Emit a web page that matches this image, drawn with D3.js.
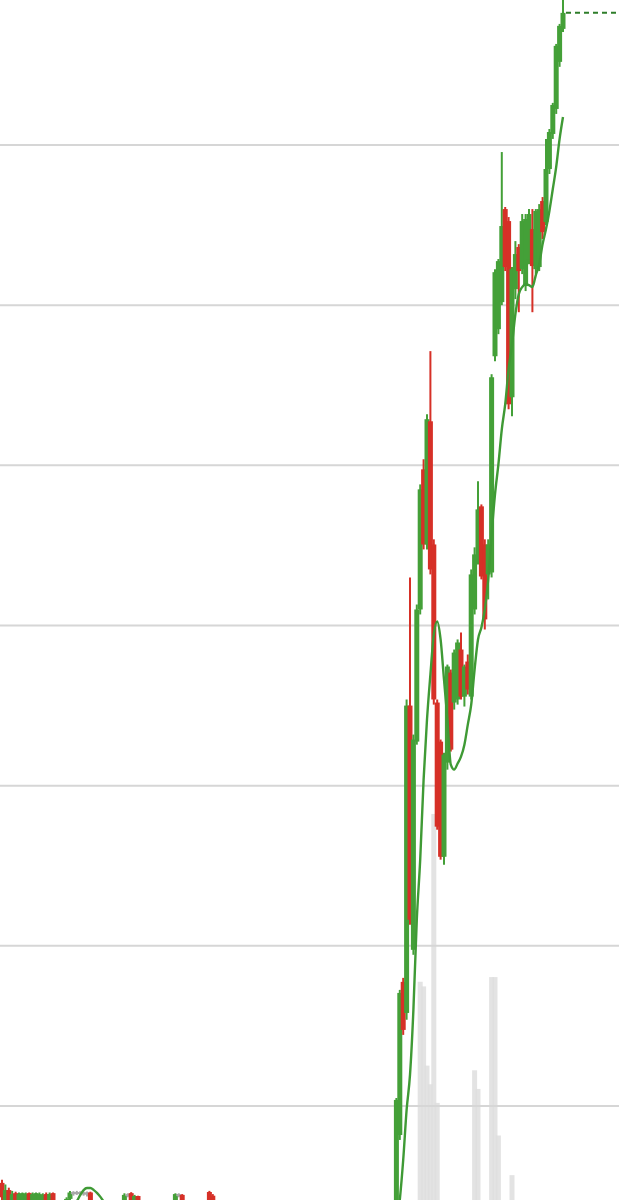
<!DOCTYPE html>
<html><head><meta charset="utf-8">
<script src="https://cdn.jsdelivr.net/npm/d3@7"></script>
<style>html,body{margin:0;padding:0;background:#fff;overflow:hidden}</style>
</head><body><svg id="c" width="619" height="1200"></svg>
<script>
// ---- data ----
const gridTicks = [10, 20, 30, 40, 50, 60, 70];
const open = [
5.2,3.7,4.75,3.8,4.56,3.85,3.9,4.0,4.56,3.95,
4.0,4.1,4.0,4.5,3.9,4.56,3.95,3.6,3.4,3.7,
4.2,4.62,4.63,4.62,4.6,4.6,4.6,4.0,3.6,3.5,
3.3,3.2,3.4,3.6,3.7,3.9,3.8,4.5,4.56,3.8,
4.38,3.9,3.7,3.5,3.6,3.4,3.5,3.7,3.8,3.9,
3.95,3.9,4.5,4.45,3.9,3.8,3.6,3.5,3.6,3.7,
3.8,4.63,4.4,3.8,3.7,3.5,3.3,3.2,3.0,2.9,
2.8,2.9,3.0,2.8,2.6,2.5,2.4,2.5,2.6,2.4,
2.2,2.1,2.0,2.2,2.3,2.1,1.9,1.8,1.9,2.0,
2.1,2.0,1.8,1.7,1.6,1.7,1.8,1.9,1.8,1.6,
1.5,1.6,1.7,1.8,1.9,2.0,1.9,1.8,1.9,2.0,
2.1,2.0,1.9,2.0,2.1,2.2,2.25,8.19,17.75,15.81,
35.0,19.75,32.75,41.0,49.75,45.06,52.75,45.06,35.19,32.75,
25.56,31.44,37.06,35.19,35.38,38.5,35.56,37.75,35.56,41.0,
44.13,47.44,45.06,43.19,43.31,56.81,58.5,60.19,66.0,65.25,
54.25,61.0,63.63,62.25,61.19,62.88,64.75,62.25,62.38,66.5,
65.19,68.5,70.69,72.25,75.19,77.25
];
const high = [
5.4,5.1,4.9,4.7,4.65,4.6,4.6,4.6,4.6,4.6,
4.6,4.6,4.55,4.6,4.6,4.6,4.05,3.8,3.9,4.3,
4.7,4.68,4.7,4.68,4.66,4.66,4.65,4.1,3.7,3.6,
3.4,3.5,3.7,3.8,4.0,4.05,4.55,4.55,4.62,4.45,
4.4,4.0,3.8,3.7,3.65,3.6,3.8,3.9,4.0,4.05,
4.05,4.55,4.55,4.5,4.0,3.9,3.7,3.7,3.8,3.9,
4.05,4.7,4.5,3.9,3.8,3.6,3.4,3.3,3.1,3.0,
3.0,3.1,3.1,2.9,2.7,2.6,2.6,2.7,2.7,2.5,
2.3,2.2,2.3,2.4,2.4,2.2,2.0,2.0,2.1,2.2,
2.2,2.1,1.9,1.8,1.8,1.9,2.0,2.0,1.9,1.7,
1.7,1.8,1.9,2.0,2.1,2.1,2.0,2.0,2.1,2.2,
2.2,2.1,2.1,2.2,2.3,2.4,10.5,17.25,18.0,35.38,
43.0,33.19,41.31,48.81,50.38,53.19,57.13,45.38,35.38,32.88,
32.06,37.56,37.25,38.5,39.13,39.56,37.56,38.19,43.5,44.88,
49.0,47.56,45.38,45.38,55.69,62.25,62.88,69.56,66.13,65.5,
62.38,64.0,63.81,65.69,65.69,66.0,66.0,66.0,66.31,66.75,
70.38,71.0,72.63,76.31,77.56,79.75
];
const low = [
3.6,3.5,3.7,3.6,3.7,3.7,3.7,3.8,3.9,3.8,
3.9,3.9,3.85,3.9,3.8,3.8,3.5,3.3,3.3,3.6,
4.0,4.4,4.45,4.4,4.4,4.35,3.9,3.5,3.3,3.1,
3.0,3.1,3.3,3.5,3.6,3.7,3.7,4.3,3.8,3.7,
3.8,3.6,3.4,3.4,3.3,3.3,3.4,3.6,3.7,3.8,
3.7,3.8,4.3,3.8,3.7,3.5,3.4,3.4,3.5,3.6,
3.7,3.8,3.7,3.6,3.4,3.2,3.1,2.9,2.8,2.7,
2.7,2.8,2.7,2.5,2.4,2.3,2.3,2.4,2.3,2.1,
2.0,1.9,1.9,2.1,2.0,1.8,1.7,1.7,1.8,1.9,
1.9,1.7,1.6,1.5,1.5,1.6,1.7,1.7,1.5,1.4,
1.4,1.5,1.6,1.7,1.8,1.8,1.7,1.7,1.8,1.9,
1.9,1.8,1.8,1.9,2.0,2.1,1.63,7.88,14.44,15.38,
21.31,19.44,32.56,40.69,44.75,44.75,43.19,35.06,27.25,25.38,
25.06,31.0,32.13,34.75,35.06,35.38,34.94,35.69,35.38,40.69,
43.81,42.88,39.75,41.63,43.0,56.5,58.19,60.0,62.13,53.5,
53.06,60.38,59.56,61.94,60.88,62.56,59.56,61.94,62.13,64.13,
65.0,68.19,70.38,71.94,74.88,77.06
];
const close = [
4.3,4.75,4.0,4.5,4.0,4.5,4.56,4.5,4.1,4.5,
4.56,4.5,4.45,4.05,4.5,3.95,3.6,3.4,3.7,4.2,
4.6,4.62,4.63,4.62,4.6,4.6,4.0,3.6,3.5,3.3,
3.2,3.4,3.6,3.7,3.9,3.8,4.45,4.5,3.95,4.38,
3.9,3.7,3.5,3.6,3.4,3.5,3.7,3.8,3.9,3.95,
3.85,4.5,4.5,3.9,3.8,3.6,3.5,3.6,3.7,3.8,
3.9,4.0,3.8,3.7,3.5,3.3,3.2,3.0,2.9,2.8,
2.9,3.0,2.8,2.6,2.5,2.4,2.5,2.6,2.4,2.2,
2.1,2.0,2.2,2.3,2.1,1.9,1.8,1.9,2.0,2.1,
2.0,1.8,1.7,1.6,1.7,1.8,1.9,1.8,1.6,1.5,
1.6,1.7,1.8,1.9,2.0,1.9,1.8,1.9,2.0,2.1,
2.0,1.9,2.0,2.1,2.2,2.25,10.38,17.06,14.75,35.0,
21.63,32.88,41.0,48.5,45.06,52.88,43.5,35.38,27.44,25.56,
31.94,37.44,32.25,38.31,38.94,35.56,37.44,36.0,43.19,44.44,
47.25,43.06,40.38,45.06,55.5,62.06,62.75,64.94,62.38,53.81,
62.25,63.19,62.13,65.25,65.38,65.69,62.44,65.88,66.0,64.56,
68.5,70.81,72.5,76.19,77.44,78.25
];
const ma = [
null,null,null,null,null,null,null,null,null,null,
null,null,null,null,null,null,null,null,null,null,
3.6,3.85,4.06,4.44,4.75,4.88,4.88,4.75,4.56,4.31,
4.0,3.7,3.5,3.4,3.35,3.3,3.3,3.3,3.3,3.3,
3.25,3.2,3.15,3.1,3.05,3.0,3.0,3.0,3.0,3.05,
3.05,3.1,3.1,3.1,3.05,3.0,2.95,2.9,2.85,2.8,
2.8,2.8,2.8,2.8,2.75,2.7,2.65,2.6,2.55,2.5,
2.45,2.4,2.35,2.3,2.25,2.2,2.15,2.1,2.05,2.0,
1.95,1.9,1.9,1.9,1.85,1.85,1.8,1.8,1.8,1.8,
1.75,1.75,1.7,1.7,1.7,1.7,1.7,1.7,1.7,1.7,
1.7,1.7,1.75,1.75,1.8,1.8,1.8,1.85,1.85,1.9,
1.9,1.95,2.0,2.05,2.1,2.15,2.25,4.13,6.63,9.75,
11.94,16.0,21.63,25.38,30.38,34.13,36.94,39.44,40.25,39.13,
36.63,34.13,31.31,31.0,31.38,31.81,32.56,33.81,35.06,37.25,
39.13,39.88,41.0,42.88,45.69,48.19,50.06,52.25,53.81,56.0,
57.56,59.44,60.69,61.13,61.31,61.25,61.13,61.88,62.56,63.81,
64.75,65.88,67.25,68.63,70.38,71.75
];
const volume = [
6,5,7,4,5,6,4,5,3,4,
5,6,4,5,3,4,5,6,7,5,
4,3,4,5,6,4,5,3,4,5,
3,4,5,6,4,3,5,4,6,5,
4,3,4,5,3,4,5,4,3,4,
5,6,4,5,3,4,5,4,3,5,
6,7,5,4,3,4,5,3,4,5,
3,4,3,5,4,3,4,5,3,4,
3,4,5,3,4,3,4,5,4,3,
4,3,4,5,3,4,3,4,3,5,
4,3,4,5,4,3,4,5,6,5,
6,7,6,8,9,10,12,11,10,12,
11,13,12,61,60,43,39,97,35,12,
11,10,9,8,9,10,11,9,10,42,
38,12,11,10,62,62,28,12,11,10,
19.5,10,9,8,9,10,11,9,8,10,
11,12,10,9,11,10
];
const days = d3.range(close.length);

// ---- layout ----
const W = 619, H = 1200;
const svg = d3.select('#c');
const x = d3.scaleLinear().domain([0, days.length - 1]).range([2, 563]);
const y = d3.scaleLinear().domain([10, 70]).range([1106, 145]);
const yv = d3.scaleLinear().domain([0, 100]).range([1266, 800]);

const GREEN = '#44a038', RED = '#d63027', DOJI = '#a8a8a8';
const bodyW = 5;

// volume
svg.append('g').selectAll('rect').data(days).join('rect')
  .attr('x', i => x(i) - bodyW / 2)
  .attr('width', bodyW)
  .attr('y', i => yv(volume[i]))
  .attr('height', i => yv(0) - yv(volume[i]))
  .attr('fill', '#dedede')
  .attr('opacity', 0.85);

// grid
svg.append('g').selectAll('line').data(gridTicks).join('line')
  .attr('x1', 0).attr('x2', W)
  .attr('y1', d => y(d)).attr('y2', d => y(d))
  .attr('stroke', '#d6d6d6').attr('stroke-width', 2);

const col = i => close[i] > open[i] ? GREEN : (close[i] < open[i] ? RED : DOJI);

const g = svg.append('g');
days.forEach(i => {
  const c = col(i);
  g.append('line')
    .attr('x1', x(i)).attr('x2', x(i))
    .attr('y1', y(high[i])).attr('y2', y(low[i]))
    .attr('stroke', c).attr('stroke-width', 2);
  const top = y(Math.max(open[i], close[i]));
  const bot = y(Math.min(open[i], close[i]));
  g.append('rect')
    .attr('x', x(i) - bodyW / 2).attr('width', bodyW)
    .attr('y', top).attr('height', Math.max(2, bot - top))
    .attr('fill', c);
});

// moving average
const line = d3.line()
  .defined(i => ma[i] != null)
  .x(i => x(i)).y(i => y(ma[i]))
  .curve(d3.curveMonotoneX);
svg.append('path').datum(days).attr('d', line)
  .attr('fill', 'none').attr('stroke', '#3f9a35').attr('stroke-width', 2.4);

// last price line
const last = days.length - 1;
svg.append('line')
  .attr('x1', x(last) + 3).attr('x2', W)
  .attr('y1', y(close[last])).attr('y2', y(close[last]))
  .attr('stroke', '#2e7d2a').attr('stroke-width', 2)
  .attr('stroke-dasharray', '5,4');
</script>
</body></html>
